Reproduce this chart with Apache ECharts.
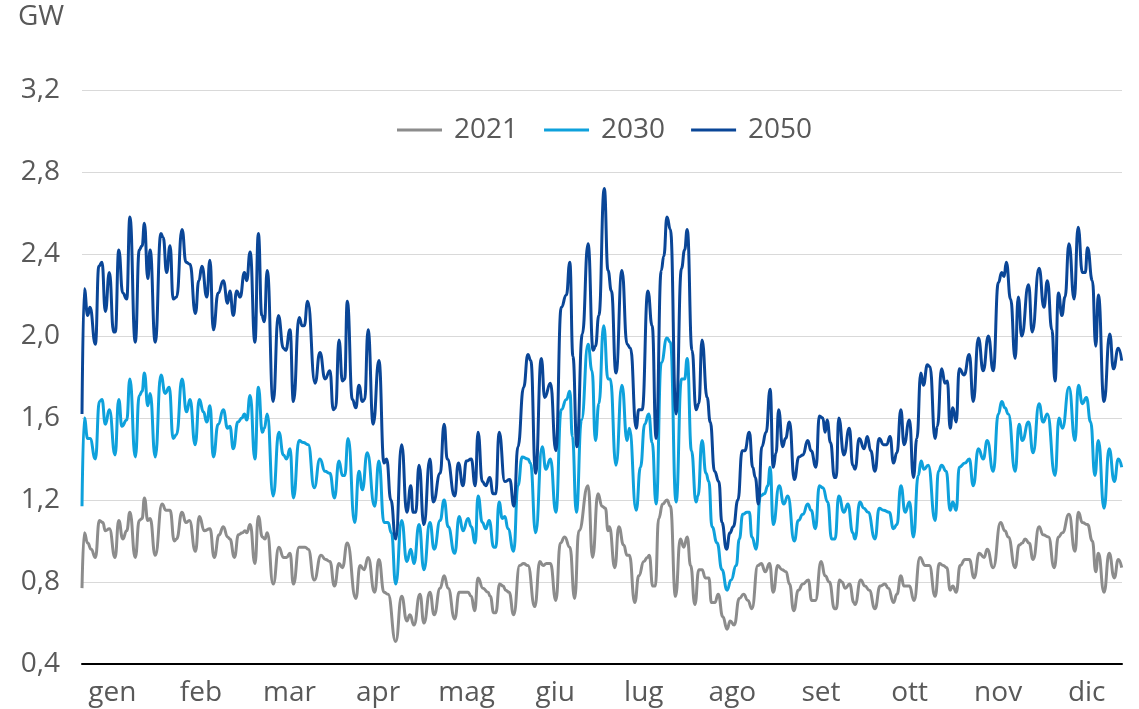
<!DOCTYPE html>
<html lang="it">
<head>
  <meta charset="UTF-8">
  <title>GW 2021 / 2030 / 2050</title>
  <script src="https://cdn.jsdelivr.net/npm/echarts@6/dist/echarts.min.js"></script>
  <style>
    html, body { margin: 0; padding: 0; background: #fff; }
    #wrap { width: 1139px; height: 709px; }
  </style>
</head>
<body>
<div id="wrap"></div>
<script>
  // mesi (etichette asse x)
  const months = ["gen", "feb", "mar", "apr", "mag", "giu", "lug", "ago", "set", "ott", "nov", "dic"]
  const yTicks = [0.4, 0.8, 1.2, 1.6, 2.0, 2.4, 2.8, 3.2]

  // [giorno dell'anno, GW]
  const s2021 = [[0,0.77],[0.8,1.04],[2,0.99],[3.2,0.96],[4.7,0.92],[6.1,1.10],[7.3,1.09],[8.2,1.05],[9.6,1.06],[11.6,0.92],[12.9,1.10],[14.3,1.01],[15.7,1.05],[16.8,1.14],[18.7,0.92],[20.1,1.10],[21.1,1.11],[21.9,1.21],[23.1,1.10],[23.9,1.11],[25.7,0.93],[28.1,1.18],[29.5,1.15],[30.9,1.15],[32.4,1.00],[33.2,1.01],[35.1,1.14],[36.5,1.09],[37.7,1.10],[39.8,0.95],[41.2,1.12],[42.9,1.05],[44.9,1.06],[46.4,0.92],[48.1,1.03],[49.6,1.07],[51.1,1.02],[51.9,1.01],[53.5,0.92],[54.9,1.03],[56.3,1.04],[57.2,1.05],[57.8,1.04],[59,1.08],[60.7,0.89],[61.9,1.12],[63.3,1.02],[64.2,1.01],[65,1.04],[67.1,0.79],[69.1,0.97],[70.7,0.92],[71.8,0.92],[73,0.94],[74.2,0.79],[76.2,0.97],[78.3,0.97],[79.4,0.96],[81.5,0.81],[83.9,0.93],[85.5,0.91],[87,0.90],[88.6,0.78],[90.2,0.89],[91.4,0.87],[93.1,0.99],[96.1,0.72],[97.6,0.88],[99,0.86],[100.4,0.92],[102.7,0.75],[104.2,0.91],[106,0.75],[107.4,0.74],[110.1,0.51],[112.2,0.73],[114,0.61],[115.1,0.64],[116.5,0.59],[118.6,0.74],[120,0.60],[122.1,0.75],[123.6,0.64],[125.7,0.77],[127.1,0.83],[128.5,0.77],[130.8,0.62],[132.4,0.75],[134.1,0.75],[135.5,0.75],[136.6,0.73],[137.8,0.66],[139,0.82],[140.7,0.77],[142.5,0.75],[143.3,0.73],[144.5,0.65],[145.2,0.65],[146.6,0.79],[147.8,0.78],[148.7,0.76],[149.9,0.75],[151.5,0.64],[153.6,0.88],[155,0.89],[156.5,0.88],[158.9,0.68],[160.7,0.90],[161.8,0.88],[163,0.89],[164.4,0.89],[166.3,0.71],[167.9,0.99],[169.4,1.02],[171.2,0.97],[172.9,0.72],[174.4,1.05],[177.6,1.27],[179.2,0.92],[181.1,1.23],[182.5,1.17],[183.7,1.16],[184.6,1.05],[185.1,1.07],[187,0.87],[188.4,1.07],[190.1,0.98],[191.3,0.93],[192.1,0.93],[194,0.70],[195.4,0.83],[197.2,0.90],[198.4,0.92],[199.1,0.93],[200.3,0.78],[201.2,0.78],[202.4,1.11],[203.8,1.18],[205.3,1.20],[206.5,1.17],[208.3,0.73],[210,1.01],[211.2,0.97],[212.4,1.02],[213.6,0.88],[215.1,0.69],[216.5,0.86],[217.6,0.86],[218.8,0.82],[220,0.82],[220.9,0.70],[222.1,0.70],[223.3,0.74],[224.9,0.63],[226.4,0.57],[227.5,0.61],[228.9,0.59],[230.7,0.72],[232.2,0.74],[233.7,0.71],[235.1,0.67],[237.2,0.88],[238.4,0.89],[239.8,0.85],[241.3,0.89],[242.6,0.75],[244.2,0.88],[245.7,0.86],[247.1,0.85],[248.3,0.79],[249.8,0.66],[251.4,0.76],[253,0.79],[254.9,0.81],[256.1,0.71],[257.4,0.71],[259.4,0.90],[260.8,0.83],[262.3,0.80],[264.1,0.67],[264.7,0.67],[265.9,0.81],[266.7,0.80],[267.9,0.77],[269.4,0.79],[270.9,0.70],[271.3,0.69],[273.3,0.81],[274.8,0.78],[276.3,0.76],[278.3,0.67],[280.1,0.78],[281.8,0.79],[283,0.77],[284.8,0.70],[286,0.74],[287.4,0.83],[288.5,0.78],[290.4,0.78],[292,0.71],[294.1,0.92],[295.9,0.88],[297.4,0.88],[299.4,0.73],[300.9,0.89],[302.3,0.88],[303.5,0.87],[304.7,0.76],[305.6,0.78],[306.8,0.75],[308.2,0.88],[309.9,0.91],[311.4,0.91],[313.1,0.82],[314.9,0.94],[316.6,0.92],[317.7,0.96],[319.8,0.87],[322.4,1.09],[323.9,1.05],[325.1,1.02],[327.5,0.87],[328.9,0.98],[330,0.99],[331,1.01],[332.4,0.99],[333.8,0.91],[335.9,1.07],[337.3,1.03],[339.2,1.02],[341.2,0.87],[342.7,1.02],[344.1,1.04],[346.4,1.13],[348.5,0.95],[349.7,1.14],[351.1,1.09],[352.9,1.08],[354.6,1.00],[355.8,0.85],[356.7,0.94],[358.7,0.75],[360.5,0.94],[362.3,0.82],[363.7,0.91],[364.9,0.87]]

  const s2030 = [[0,1.17],[0.8,1.60],[2,1.50],[2.8,1.50],[4.7,1.40],[6.1,1.68],[7,1.69],[8.2,1.57],[9.6,1.64],[11.6,1.42],[12.9,1.69],[14,1.56],[15.7,1.59],[16.8,1.79],[18.7,1.41],[20.1,1.71],[21.1,1.73],[21.9,1.82],[23.1,1.66],[23.9,1.72],[25.7,1.41],[27.7,1.81],[29.2,1.72],[30.6,1.75],[32,1.50],[33.2,1.52],[35.1,1.79],[36.7,1.63],[37.9,1.69],[39.7,1.47],[41.2,1.69],[42.6,1.63],[43.8,1.58],[44.9,1.66],[46.1,1.41],[47.8,1.57],[49.6,1.64],[51.1,1.55],[51.9,1.56],[53.1,1.45],[54.7,1.58],[56.1,1.60],[57,1.62],[57.8,1.59],[59,1.71],[60.7,1.40],[61.9,1.75],[63.3,1.53],[64,1.55],[65,1.62],[67.1,1.22],[69.1,1.53],[70.7,1.42],[71.8,1.40],[73,1.45],[74.2,1.21],[76.2,1.49],[77.7,1.48],[79.4,1.47],[81.5,1.26],[83.5,1.40],[85.3,1.34],[87,1.33],[88.6,1.21],[90.2,1.39],[91.4,1.32],[92.2,1.32],[93.4,1.50],[95.7,1.09],[97.2,1.34],[98.4,1.25],[100.1,1.43],[102.7,1.17],[104.2,1.39],[106,1.09],[107.4,1.09],[108.6,1.04],[110.1,0.79],[112.2,1.10],[114,0.90],[115.4,0.96],[116.5,0.89],[118.3,1.08],[120,0.86],[122.1,1.09],[123.6,0.96],[125.7,1.10],[127.1,1.20],[128.5,1.07],[130.8,0.94],[132.4,1.12],[133.7,1.05],[135.5,1.11],[136.6,1.07],[138,0.99],[139,1.22],[140.5,1.09],[141.7,1.06],[142.9,1.10],[144.5,0.97],[145.2,0.97],[146.4,1.19],[147.5,1.11],[148.4,1.12],[149.5,1.06],[151.5,0.95],[153,1.27],[154.5,1.41],[156.5,1.40],[157.4,1.38],[159.2,1.04],[161.5,1.46],[162.8,1.35],[164.4,1.40],[166.3,1.14],[168.2,1.64],[170,1.69],[171.2,1.73],[172.1,1.51],[173.5,1.14],[175.3,1.59],[177.6,1.96],[179,1.83],[180.2,1.49],[181.4,1.67],[183.1,2.05],[184.6,1.79],[185.4,1.79],[187.4,1.37],[189.5,1.76],[191.3,1.49],[192.1,1.55],[194.5,1.15],[196,1.36],[197.5,1.57],[198.9,1.62],[200.1,1.48],[201.5,1.18],[203.3,1.87],[205.3,1.99],[206.5,1.97],[208.5,1.19],[210.4,1.79],[211.5,1.79],[212.4,1.89],[213.9,1.44],[215.5,1.19],[216.2,1.22],[217.6,1.49],[219,1.33],[220,1.29],[221.1,1.07],[222.9,0.99],[224.6,0.86],[226.4,0.76],[227.8,0.81],[229.6,0.88],[230.7,1.01],[231.9,1.13],[233.4,1.14],[234.2,1.14],[235.1,1.02],[236.6,0.96],[238.1,1.22],[239.5,1.23],[240.7,1.27],[241.5,1.36],[242.6,1.08],[244.7,1.27],[246.3,1.18],[247.7,1.22],[250,1.00],[251.4,1.10],[253,1.13],[254.7,1.18],[255.9,1.15],[257.4,1.06],[258.8,1.27],[260,1.26],[261.7,1.19],[263.1,1.01],[264.3,1.01],[265.6,1.22],[267.4,1.14],[268.8,1.18],[270.5,1.04],[271.3,1.01],[273,1.19],[274.4,1.16],[275.9,1.14],[278.3,1.01],[279.8,1.16],[281.3,1.15],[283.3,1.14],[284.8,1.06],[286,1.08],[287.4,1.27],[288.9,1.14],[290.4,1.19],[291.8,1.02],[293.5,1.32],[294.5,1.39],[295.5,1.35],[297,1.37],[299.4,1.10],[300.6,1.34],[301.7,1.37],[303.3,1.34],[304.7,1.15],[305.6,1.19],[306.8,1.15],[307.9,1.36],[309.9,1.38],[311.4,1.40],[312.8,1.27],[314.6,1.45],[316.3,1.40],[317.7,1.49],[319.8,1.34],[321.6,1.62],[322.8,1.68],[323.9,1.65],[325.1,1.62],[327.5,1.34],[328.9,1.57],[330,1.49],[332.2,1.58],[333.8,1.43],[335.9,1.67],[337.3,1.58],[338.8,1.62],[341.5,1.32],[342.9,1.60],[344.1,1.55],[346.4,1.75],[348.5,1.49],[349.7,1.76],[351.1,1.67],[352.5,1.70],[354,1.58],[355.5,1.32],[356.7,1.49],[358.7,1.16],[360.5,1.45],[362.3,1.29],[363.7,1.40],[364.9,1.36]]

  const s2050 = [[0,1.62],[0.8,2.23],[2,2.10],[2.8,2.14],[4.7,1.96],[5.9,2.34],[7,2.36],[8.2,2.12],[9.6,2.31],[11.1,2.02],[11.7,2.02],[12.9,2.42],[14.3,2.21],[15.7,2.18],[16.8,2.58],[18.7,1.97],[20.1,2.42],[21.1,2.44],[21.9,2.55],[23.1,2.28],[23.9,2.42],[25.7,1.97],[27.7,2.50],[28.5,2.48],[29.7,2.31],[30.9,2.44],[32,2.18],[33.2,2.19],[35.1,2.52],[36.5,2.36],[37.9,2.35],[39.8,2.11],[41,2.27],[42.1,2.34],[43.8,2.19],[44.9,2.37],[46.1,2.03],[47.8,2.21],[49.6,2.27],[51.1,2.16],[51.9,2.22],[53.1,2.10],[54.3,2.22],[55.5,2.19],[57,2.31],[57.8,2.27],[59,2.41],[60.7,1.97],[61.9,2.50],[63.1,2.10],[64,2.07],[65,2.32],[67.1,1.68],[68.9,2.10],[70.7,1.94],[71.5,1.93],[73,2.03],[74.2,1.68],[76.2,2.09],[77.3,2.05],[78,2.05],[79.2,2.17],[81.8,1.77],[83.5,1.92],[85.3,1.79],[87,1.83],[88.2,1.64],[89,1.65],[90.2,1.98],[91.4,1.78],[92.2,1.79],[93.1,2.17],[94.9,1.69],[96.1,1.65],[97.2,1.76],[98.4,1.68],[99.2,1.69],[100.4,2.03],[102.2,1.57],[104.2,1.88],[106,1.38],[106.9,1.40],[108.4,1.20],[110.1,1.01],[112.2,1.47],[114,1.14],[115.4,1.27],[116.2,1.14],[117.1,1.14],[118.3,1.37],[120,1.08],[122.1,1.40],[123.3,1.19],[125.7,1.33],[127.1,1.57],[128.2,1.40],[130.8,1.22],[132.1,1.38],[133.7,1.27],[134.9,1.39],[136.6,1.40],[138,1.27],[139,1.53],[140.5,1.29],[141.7,1.27],[143.1,1.31],[144.3,1.23],[145.2,1.23],[146.4,1.53],[148.4,1.29],[150.1,1.30],[151.6,1.17],[153,1.46],[155,1.75],[156.5,1.91],[157.5,1.88],[159.2,1.33],[161.2,1.89],[162.4,1.70],[164.4,1.77],[166.3,1.44],[168.2,2.14],[170,2.20],[171.2,2.36],[172.3,1.90],[173.7,1.46],[175.6,2.01],[177.6,2.45],[179.4,1.93],[180.2,1.95],[181.4,2.10],[183.3,2.72],[184.6,2.32],[185.8,2.22],[187.4,1.82],[189.5,2.32],[191.3,1.96],[192.5,1.94],[194.5,1.55],[195.4,1.64],[196.6,1.64],[198.6,2.22],[200.1,2.05],[201.5,1.50],[203.3,2.32],[204.2,2.39],[205.3,2.58],[206.5,2.52],[208.5,1.62],[210.4,2.33],[211.5,2.42],[212.4,2.52],[214.1,1.93],[215.5,1.64],[216.5,1.67],[217.6,1.98],[219.4,1.70],[220.5,1.58],[222,1.34],[223.5,1.29],[224.6,1.09],[226.2,0.96],[227.4,1.04],[228.6,1.07],[230.2,1.20],[231.7,1.44],[232.6,1.44],[234.2,1.53],[235.4,1.36],[236.3,1.31],[237.4,1.18],[238.6,1.46],[240.1,1.53],[241.5,1.74],[242.6,1.36],[243.6,1.43],[244.5,1.64],[245.9,1.46],[246.9,1.50],[248.3,1.58],[250,1.30],[251.6,1.41],[253,1.42],[254.7,1.49],[255.9,1.44],[257.6,1.36],[258.8,1.61],[260,1.60],[260.8,1.53],[261.5,1.59],[262.7,1.48],[264.1,1.31],[264.7,1.31],[265.6,1.60],[267.4,1.42],[269.3,1.55],[270.5,1.37],[271.3,1.35],[272.8,1.50],[274.5,1.45],[275.6,1.51],[276.8,1.44],[278.3,1.34],[279.8,1.50],[281.3,1.47],[282.4,1.47],[283.6,1.51],[284.8,1.38],[286,1.43],[287.4,1.64],[288.5,1.47],[290.4,1.59],[291.8,1.31],[293,1.50],[294.4,1.82],[295.3,1.76],[296.7,1.86],[297.6,1.85],[299.4,1.50],[300.2,1.56],[301.7,1.84],[302.9,1.77],[303.7,1.78],[304.7,1.55],[305.6,1.65],[306.8,1.58],[307.9,1.84],[309.6,1.81],[311.4,1.91],[312.8,1.68],[314.6,1.99],[316.3,1.83],[318.1,2.00],[319.8,1.83],[321.6,2.26],[322.8,2.31],[323.6,2.29],[324.4,2.36],[325.9,2.18],[327.5,1.89],[328.6,2.19],[329.8,2.00],[332.2,2.25],[333.5,2.02],[335.9,2.33],[337.6,2.14],[338.8,2.27],[340.4,2.03],[341.5,1.78],[342.7,2.21],[343.9,2.10],[345,2.19],[346.4,2.45],[348.2,2.18],[349.6,2.53],[351.1,2.31],[352.1,2.31],[352.9,2.43],[354.6,2.27],[355.8,1.95],[356.7,2.20],[358.7,1.68],[360.7,2.01],[362,1.84],[363.7,1.94],[364.9,1.88]]

  const textColor = "#595959"
  const font = "'Open Sans', 'Noto Sans', sans-serif"

  const chart = echarts.init(document.querySelector("#wrap"))

  const line = (name, data, color) => ({
    name: name,
    type: "line",
    xAxisIndex: 0,
    yAxisIndex: 0,
    data: data,
    showSymbol: false,
    smooth: 0.5,
    smoothMonotone: "x",
    lineStyle: { width: 3, color: color },
    itemStyle: { color: color },
    animation: false
  })

  const ops = {
    textStyle: { fontFamily: font },
    graphic: [{
      type: "text",
      left: 18,
      top: 3,
      style: { text: "GW", fontSize: 28, fill: textColor, fontFamily: font }
    }],
    legend: {
      left: 397,
      top: 116,
      padding: 0,
      icon: "rect",
      itemWidth: 45,
      itemHeight: 3,
      itemGap: 26,
      textStyle: { fontSize: 28, color: textColor, padding: [0, 0, 0, 7] },
      data: ["2021", "2030", "2050"]
    },
    grid: [
      { left: 82, right: 17, top: 90, bottom: 45 },
      // griglia solo per le etichette dei mesi
      { left: 68, right: 8, top: 90, bottom: 45 }
    ],
    xAxis: [
      {
        type: "value",
        gridIndex: 0,
        min: 0,
        max: 365,
        axisLine: { show: true, onZero: false, lineStyle: { color: "#000", width: 2 } },
        axisTick: { show: false },
        axisLabel: { show: false },
        splitLine: { show: false }
      },
      {
        type: "category",
        gridIndex: 1,
        data: months,
        boundaryGap: true,
        axisLine: { show: false },
        axisTick: { show: false },
        axisLabel: { interval: 0, fontSize: 28, color: textColor, margin: 15 },
        splitLine: { show: false }
      }
    ],
    yAxis: [
      {
        type: "value",
        gridIndex: 0,
        min: yTicks[0],
        max: yTicks[yTicks.length - 1],
        interval: 0.4,
        axisLine: { show: false },
        axisTick: { show: false },
        splitLine: { lineStyle: { color: "#d9d9d9", width: 1 } },
        axisLabel: {
          fontSize: 28,
          color: textColor,
          margin: 22,
          formatter: v => v.toFixed(1).replace(".", ",")
        }
      },
      { type: "value", gridIndex: 1, show: false, min: 0, max: 1 }
    ],
    series: [
      line("2021", s2021, "#8c8c8c"),
      line("2030", s2030, "#0ea1dc"),
      line("2050", s2050, "#0a4697")
    ]
  }

  chart.setOption(ops)
</script>
</body>
</html>
